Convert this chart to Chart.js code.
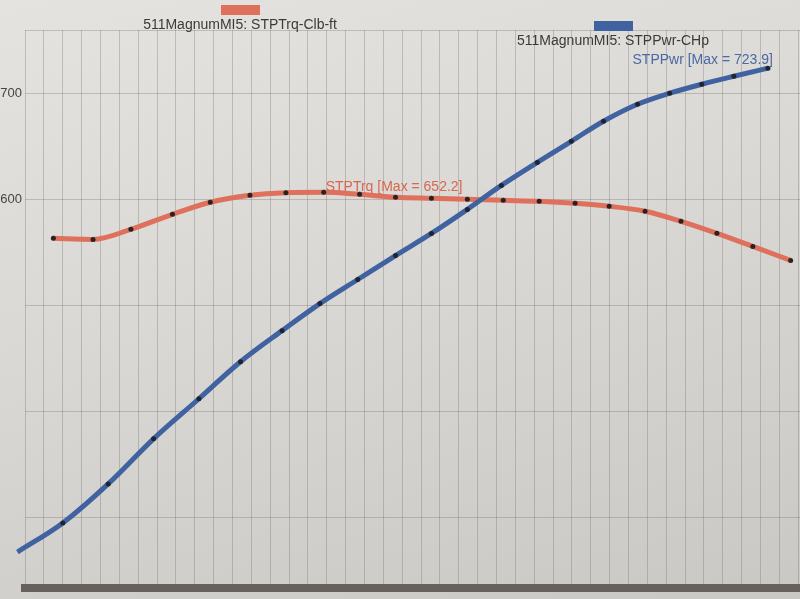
<!DOCTYPE html>
<html>
<head>
<meta charset="utf-8">
<script src="https://cdn.jsdelivr.net/npm/chart.js@4/dist/chart.umd.min.js"></script>
<style>
  html, body {
    margin: 0; padding: 0; overflow: hidden; width: 800px; height: 599px;
    background: linear-gradient(165deg, #e4e3e0 0%, #d9d8d5 45%, #cac8c5 100%);
  }
  #wrap { position: absolute; left: -30px; top: 0; width: 870px; height: 599px; }
</style>
</head>
<body>
<div id="wrap"><canvas id="chartCanvas" width="870" height="599"></canvas></div>
<script>
// --- data ---
const rpmTrq = [2550, 2760, 2960, 3180, 3380, 3590, 3780, 3980, 4170, 4360, 4550,
                4740, 4930, 5120, 5310, 5490, 5680, 5870, 6060, 6250, 6450];
const trqLbft = [608.8, 607.8, 617.3, 631.4, 642.8, 649.4, 651.8, 652.2, 650.3, 647.5, 646.5,
                 645.6, 644.6, 643.7, 641.8, 639.0, 634.3, 624.8, 613.5, 601.2, 588.0];

const rpmPwr = [2360, 2600, 2840, 3080, 3320, 3540, 3760, 3960, 4160, 4360, 4550,
                4740, 4920, 5110, 5290, 5460, 5640, 5810, 5980, 6150, 6330];
const pwrHp = [267.8, 295.2, 332.0, 374.5, 412.3, 447.2, 476.5, 502.0, 524.7, 547.3, 568.1,
               590.8, 613.4, 635.1, 655.0, 673.9, 689.9, 700.3, 708.8, 716.3, 723.9];

const yTicks = [300, 400, 500, 600, 700];
const yLabelled = [600, 700];
const seriesNames = ["511MagnumMI5: STPTrq-Clb-ft", "511MagnumMI5: STPPwr-CHp"];
const maxTags = ["STPTrq", "STPPwr"];

const SHIFT = 30; // canvas sits 30px left of the page
const FONT = "'Liberation Sans', Arial, sans-serif";

const toPoints = (xs, ys) => xs.map((x, i) => ({ x, y: ys[i] }));

// legend: colour swatch above centred text
const sheetLegend = {
  id: "sheetLegend",
  afterDraw(chart) {
    const ctx = chart.ctx;
    const spots = [{ x: 240, y: 5 }, { x: 613, y: 21 }];
    ctx.save();
    ctx.font = "14px " + FONT;
    ctx.textAlign = "center";
    chart.data.datasets.forEach((ds, i) => {
      const s = spots[i];
      ctx.fillStyle = ds.borderColor;
      ctx.fillRect(s.x + SHIFT - 19, s.y, 39, 10);
      ctx.fillStyle = "#3a3a3a";
      ctx.fillText(ds.label, s.x + SHIFT, s.y + 24);
    });
    ctx.restore();
  }
};

// "[Max = ...]" tags next to the peak of each curve
const maxLabels = {
  id: "maxLabels",
  afterDatasetsDraw(chart) {
    const ctx = chart.ctx;
    ctx.save();
    ctx.font = "14px " + FONT;
    chart.data.datasets.forEach((ds, i) => {
      let best = 0;
      ds.data.forEach((p, j) => { if (p.y > ds.data[best].y) best = j; });
      const pt = chart.getDatasetMeta(i).data[best];
      const text = `${maxTags[i]} [Max = ${ds.data[best].y.toFixed(1)}]`;
      ctx.fillStyle = ds.tagColor;
      if (best === ds.data.length - 1) {
        ctx.textAlign = "right";
        ctx.fillText(text, pt.x + 5, pt.y - 4);
      } else {
        ctx.textAlign = "left";
        ctx.fillText(text, pt.x + 2, pt.y - 1);
      }
    });
    ctx.restore();
  }
};

const gridColor = "rgba(105, 100, 96, 0.30)";

new Chart(document.getElementById("chartCanvas"), {
  type: "line",
  data: {
    datasets: [
      {
        label: seriesNames[0],
        data: toPoints(rpmTrq, trqLbft),
        yAxisID: "y2",
        borderColor: "#de705c",
        tagColor: "#d9664f",
        borderWidth: 5,
        cubicInterpolationMode: "monotone",
        pointRadius: 2.5,
        pointBorderWidth: 0,
        pointBackgroundColor: "#2a2222",
        clip: false,
        order: 1
      },
      {
        label: seriesNames[1],
        data: toPoints(rpmPwr, pwrHp),
        yAxisID: "y",
        borderColor: "#4062a0",
        tagColor: "#4a68a2",
        borderWidth: 5,
        cubicInterpolationMode: "monotone",
        pointRadius: 2.5,
        pointBorderWidth: 0,
        pointBackgroundColor: "#1e2430",
        clip: false,
        order: 0
      }
    ]
  },
  options: {
    responsive: false,
    animation: false,
    devicePixelRatio: 1,
    layout: { padding: { top: 30, bottom: 11, left: 0, right: 0 } },
    plugins: { legend: { display: false }, tooltip: { enabled: false } },
    scales: {
      x: {
        type: "linear",
        min: 2400,
        max: 6690,
        ticks: { display: false, stepSize: 100 },
        grid: { color: gridColor, lineWidth: 1, drawTicks: false },
        border: { color: "#66615d", width: 8 },
        afterFit: s => { s.height = 0; }
      },
      y: {
        min: 233.9,
        max: 759.9,
        afterBuildTicks: s => { s.ticks = yTicks.concat([759.9]).map(v => ({ value: v })); },
        ticks: {
          padding: 3,
          color: "#444",
          font: { size: 13, family: FONT },
          callback: v => (yLabelled.includes(v) ? v : "")
        },
        grid: { color: gridColor, lineWidth: 1, drawTicks: false },
        border: { display: false },
        afterFit: s => { s.width = 55; }
      },
      y2: {
        display: false,
        position: "right",
        min: 279.2,
        max: 805.2
      }
    }
  },
  plugins: [sheetLegend, maxLabels]
});
</script>
</body>
</html>
